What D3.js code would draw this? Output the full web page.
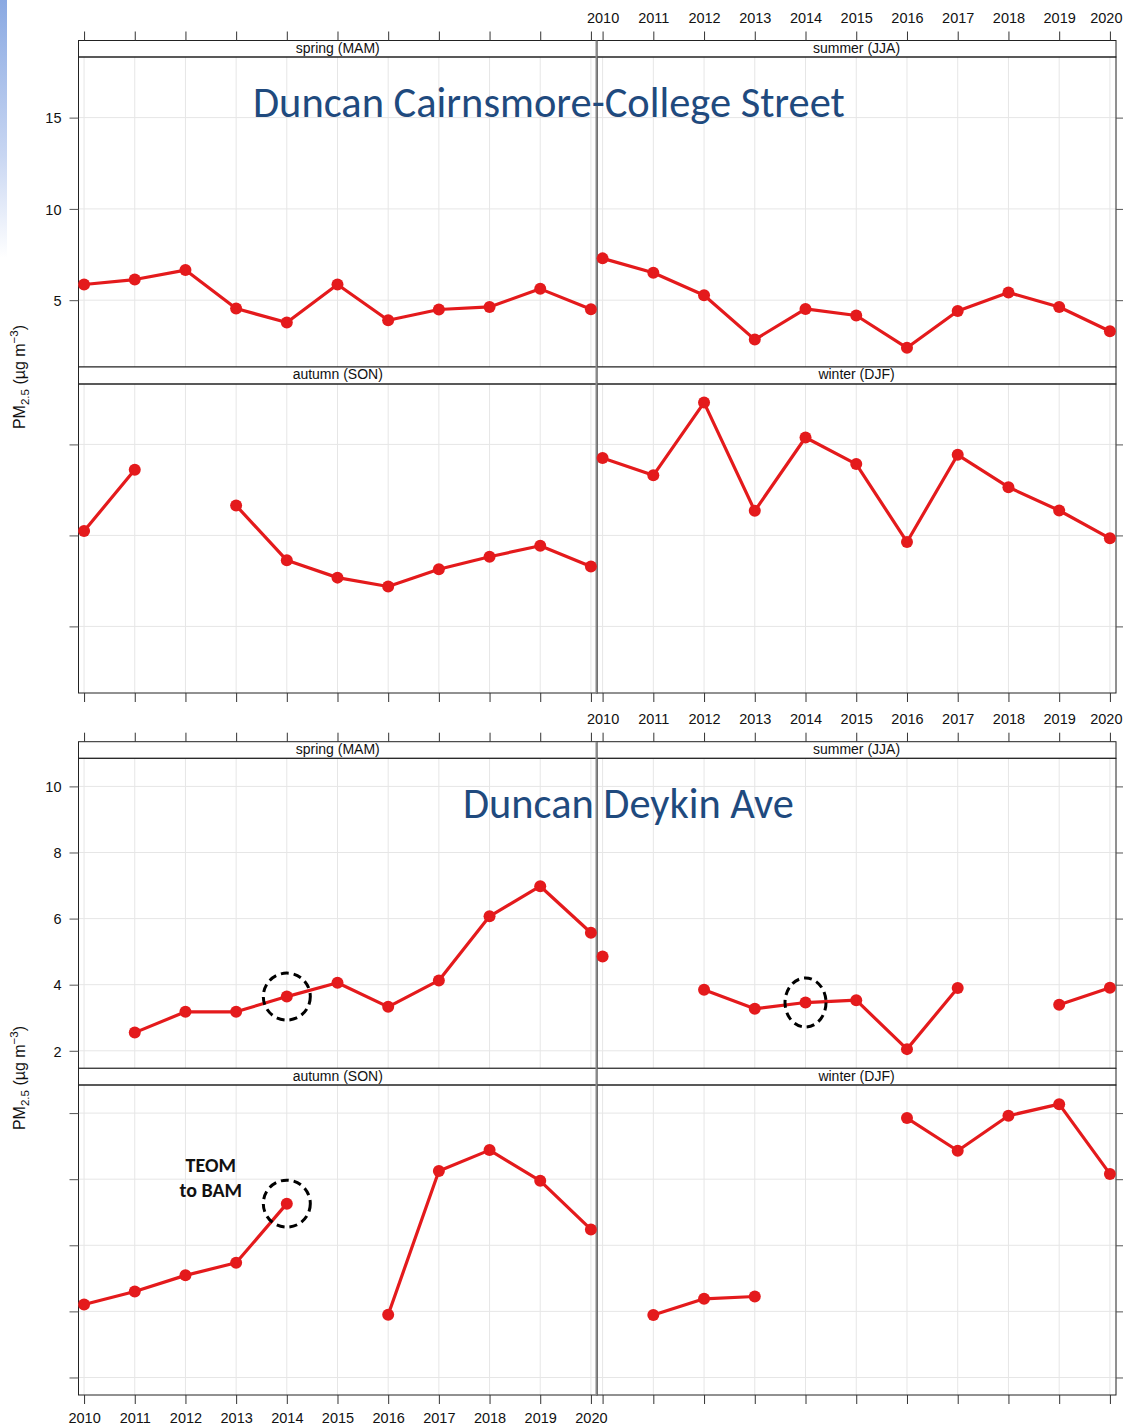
<!DOCTYPE html>
<html><head><meta charset="utf-8">
<script src="https://cdn.jsdelivr.net/npm/d3@7"></script>
<style>body{margin:0;background:#fff}svg{display:block}</style>
</head><body>
<svg id="c" width="1123" height="1425"></svg>
<script>
// ---------------- data ----------------
const years = [2010, 2011, 2012, 2013, 2014, 2015, 2016, 2017, 2018, 2019, 2020];
const seasonLabels = ["spring (MAM)", "summer (JJA)", "autumn (SON)", "winter (DJF)"];

const cairnsSpring = [5.86, 6.13, 6.65, 4.54, 3.78, 5.86, 3.90, 4.49, 4.63, 5.62, 4.50];
const cairnsSummer = [7.29, 6.50, 5.27, 2.84, 4.52, 4.16, 2.39, 4.41, 5.42, 4.63, 3.30];
const cairnsAutumn = [10.24, 13.61, null, 11.64, 8.63, 7.68, 7.19, 8.14, 8.83, 9.43, 8.29];
const cairnsWinter = [14.25, 13.30, 17.30, 11.35, 15.38, 13.92, 9.64, 14.43, 12.65, 11.37, 9.84];

const deykinSpring = [null, 2.55, 3.18, 3.18, 3.64, 4.06, 3.33, 4.13, 6.07, 6.98, 5.57];
const deykinSummer = [4.85, null, 3.85, 3.27, 3.46, 3.53, 2.05, 3.90, null, 3.39, 3.91];
const deykinAutumn = [4.21, 4.60, 5.09, 5.47, 7.26, null, 3.90, 8.25, 8.88, 7.95, 6.48];
const deykinWinter = [null, 3.89, 4.38, 4.45, null, null, 9.85, 8.86, 9.92, 10.27, 8.16];

const cairnsYTicks = [5, 10, 15];
const deykinYTicks = [2, 4, 6, 8, 10];
const cairnsYDomain = [1.34, 18.32];
const deykinYDomain = [1.47, 10.85];
const xDomain = [2009.89, 2020.12];

const cairnsTitle = "Duncan Cairnsmore-College Street";
const deykinTitle = "Duncan Deykin Ave";
const switchYear = 2014;   // TEOM to BAM change
const switchLabel = ["TEOM", "to BAM"];

// ---------------- drawing ----------------
const svg = d3.select("#c");
const RED = "#e41a1c";
const AXIS_FONT = "'Liberation Sans', Arial, Helvetica, sans-serif";
const TITLE_FONT = "Calibri, Carlito, Lato, 'Open Sans', sans-serif";
const W = 1123;

const defs = svg.append("defs");
const grad = defs.append("linearGradient").attr("id", "bgstrip")
  .attr("x1", 0).attr("y1", 0).attr("x2", 0).attr("y2", 1);
grad.append("stop").attr("offset", 0).attr("stop-color", "#8aa9e2");
grad.append("stop").attr("offset", 0.6).attr("stop-color", "#c8d6f2");
grad.append("stop").attr("offset", 1).attr("stop-color", "#ffffff");
svg.append("rect").attr("x", 0).attr("y", 0).attr("width", 7).attr("height", 258)
  .attr("fill", "url(#bgstrip)");

const cols = [[78.5, 597], [597, 1116]];

function drawChart(cfg) {
  const g = svg.append("g");
  const panels = [];
  cfg.rows.forEach((row, ri) => {
    cols.forEach((col, ci) => {
      panels.push({ri, ci, row, col, season: ri * 2 + ci});
    });
  });

  panels.forEach(p => {
    const x = d3.scaleLinear().domain(xDomain).range(p.col);
    const y = d3.scaleLinear().domain(cfg.yDomain).range([p.row.bottom, p.row.top]);
    p.x = x; p.y = y;
    const pg = g.append("g");
    pg.selectAll("line.vg").data(years).join("line")
      .attr("x1", d => x(d)).attr("x2", d => x(d))
      .attr("y1", p.row.top).attr("y2", p.row.bottom)
      .attr("stroke", "#e6e6e6").attr("stroke-width", 1);
    pg.selectAll("line.hg").data(cfg.yTicks).join("line")
      .attr("x1", p.col[0]).attr("x2", p.col[1])
      .attr("y1", d => y(d)).attr("y2", d => y(d))
      .attr("stroke", "#e6e6e6").attr("stroke-width", 1);
  });

  panels.forEach(p => {
    const x = p.x, y = p.y;
    const pg = g.append("g");
    pg.append("rect").attr("x", p.col[0]).attr("y", p.row.stripTop)
      .attr("width", p.col[1] - p.col[0]).attr("height", p.row.top - p.row.stripTop)
      .attr("fill", "#fff").attr("stroke", "#222").attr("stroke-width", 1);
    pg.append("text").attr("x", (p.col[0] + p.col[1]) / 2).attr("y", p.row.stripTop + 12.3)
      .attr("text-anchor", "middle").attr("font-family", AXIS_FONT).attr("font-size", 14)
      .attr("fill", "#111").text(seasonLabels[p.season]);
    pg.append("rect").attr("x", p.col[0]).attr("y", p.row.top)
      .attr("width", p.col[1] - p.col[0]).attr("height", p.row.bottom - p.row.top)
      .attr("fill", "none").attr("stroke", "#222").attr("stroke-width", 1);

    if (p.ri === 0) {
      const ax = d3.axisTop(x).tickValues(years).tickSize(9).tickSizeOuter(0)
        .tickFormat(p.ci === 1 ? d3.format("d") : () => "");
      const a = pg.append("g").attr("transform", `translate(0,${p.row.stripTop})`).call(ax);
      a.select(".domain").remove();
      a.selectAll("line").attr("stroke", "#333");
      a.selectAll("text").attr("font-family", AXIS_FONT).attr("font-size", 14.5)
        .attr("fill", "#111").attr("y", null).attr("dy", null)
        .attr("transform", `translate(0,${cfg.topLabelBaseline - p.row.stripTop})`);
      // keep the last label inside the page edge
      a.selectAll("text").each(function(d) {
        const t = d3.select(this);
        const halfW = this.getComputedTextLength() / 2;
        if (x(d) + halfW > W - 1) t.attr("text-anchor", "end").attr("x", W - 1 - x(d));
      });
    }
    if (p.ri === cfg.rows.length - 1) {
      const ax = d3.axisBottom(x).tickValues(years).tickSize(9).tickSizeOuter(0)
        .tickFormat(p.ci === 0 && cfg.bottomLabels ? d3.format("d") : () => "");
      const a = pg.append("g").attr("transform", `translate(0,${p.row.bottom})`).call(ax);
      a.select(".domain").remove();
      a.selectAll("line").attr("stroke", "#333");
      a.selectAll("text").attr("font-family", AXIS_FONT).attr("font-size", 14.5)
        .attr("fill", "#111").attr("y", null).attr("dy", null)
        .attr("transform", `translate(0,${cfg.bottomLabelBaseline - p.row.bottom})`);
    }
    if (p.ci === 0) {
      const ax = d3.axisLeft(y).tickValues(cfg.yTicks).tickSize(9).tickSizeOuter(0)
        .tickFormat(p.ri === 0 ? d3.format("d") : () => "");
      const a = pg.append("g").attr("transform", `translate(${p.col[0]},0)`).call(ax);
      a.select(".domain").remove();
      a.selectAll("line").attr("stroke", "#555");
      a.selectAll("text").attr("font-family", AXIS_FONT).attr("font-size", 14.5)
        .attr("fill", "#111").attr("x", -17).attr("dy", "0.36em");
    }
    if (p.ci === 1) {
      const ax = d3.axisRight(y).tickValues(cfg.yTicks).tickSize(9).tickSizeOuter(0)
        .tickFormat(() => "");
      const a = pg.append("g").attr("transform", `translate(${p.col[1]},0)`).call(ax);
      a.select(".domain").remove();
      a.selectAll("line").attr("stroke", "#555");
    }
  });

  // column divider for this chart
  g.append("line").attr("x1", 596.5).attr("x2", 596.5)
    .attr("y1", cfg.rows[0].stripTop).attr("y2", cfg.rows[cfg.rows.length - 1].bottom)
    .attr("stroke", "#8a8a8a").attr("stroke-width", 2);

  panels.forEach(p => {
    const x = p.x, y = p.y;
    const vals = cfg.series[p.season];
    const pts = years.map((yr, i) => ({yr, v: vals[i]}));
    const line = d3.line().defined(d => d.v != null).x(d => x(d.yr)).y(d => y(d.v));
    g.append("path").datum(pts).attr("d", line).attr("fill", "none")
      .attr("stroke", RED).attr("stroke-width", 3.2).attr("stroke-linejoin", "round");
    g.selectAll(null).data(pts.filter(d => d.v != null)).join("circle")
      .attr("cx", d => x(d.yr)).attr("cy", d => y(d.v)).attr("r", 6).attr("fill", RED);
  });

  const t = g.append("text").attr("font-family", TITLE_FONT).attr("font-size", 40)
    .attr("fill", "#1f4a7e").attr("x", cfg.title.x0).attr("y", cfg.title.baseline)
    .text(cfg.title.text);
  const len = t.node().getComputedTextLength();
  t.attr("font-size", 40 * (cfg.title.x1 - cfg.title.x0) / len);

  const yt = g.append("text").attr("font-family", AXIS_FONT).attr("font-size", 16)
    .attr("fill", "#111").attr("text-anchor", "middle")
    .attr("transform", `translate(25,${cfg.yTitleCenter}) rotate(-90)`);
  yt.append("tspan").text("PM");
  yt.append("tspan").attr("font-size", 11.5).attr("dy", 4).text("2.5");
  yt.append("tspan").attr("dy", -4).text(" (\u00b5g m");
  yt.append("tspan").attr("font-size", 11.5).attr("dy", -7).text("\u22123");
  yt.append("tspan").attr("dy", 7).text(")");

  return panels;
}

const ch1 = drawChart({
  rows: [{stripTop: 40.5, top: 57, bottom: 367}, {stripTop: 367, top: 384, bottom: 693}],
  yDomain: cairnsYDomain, yTicks: cairnsYTicks,
  series: [cairnsSpring, cairnsSummer, cairnsAutumn, cairnsWinter],
  topLabelBaseline: 23.3, bottomLabels: false, bottomLabelBaseline: 723,
  title: {text: cairnsTitle, x0: 253, x1: 845, baseline: 117},
  yTitleCenter: 377
});

const ch2 = drawChart({
  rows: [{stripTop: 741.7, top: 758.3, bottom: 1068.3}, {stripTop: 1068.3, top: 1085, bottom: 1395}],
  yDomain: deykinYDomain, yTicks: deykinYTicks,
  series: [deykinSpring, deykinSummer, deykinAutumn, deykinWinter],
  topLabelBaseline: 724.3, bottomLabels: true, bottomLabelBaseline: 1423,
  title: {text: deykinTitle, x0: 463, x1: 794, baseline: 818},
  yTitleCenter: 1078
});

const annot = [
  {season: 0, vals: deykinSpring, rx: 23.5, ry: 23.5},
  {season: 1, vals: deykinSummer, rx: 20.5, ry: 24.5},
  {season: 2, vals: deykinAutumn, rx: 23.5, ry: 23.5}
];
const si = years.indexOf(switchYear);
annot.forEach(a => {
  const p = ch2.find(q => q.season === a.season);
  svg.append("ellipse").attr("cx", p.x(switchYear)).attr("cy", p.y(a.vals[si]))
    .attr("rx", a.rx).attr("ry", a.ry).attr("fill", "none")
    .attr("stroke", "#000").attr("stroke-width", 3).attr("stroke-dasharray", "8,5");
});
{
  const p = ch2.find(q => q.season === 2);
  const tx = svg.append("text").attr("font-family", TITLE_FONT).attr("font-weight", "bold")
    .attr("font-size", 20).attr("fill", "#111").attr("text-anchor", "middle");
  tx.append("tspan").attr("x", p.x(2012.5)).attr("y", 1171.5).text(switchLabel[0]);
  tx.append("tspan").attr("x", p.x(2012.5)).attr("y", 1196.5).text(switchLabel[1]);
}
</script>
</body></html>
